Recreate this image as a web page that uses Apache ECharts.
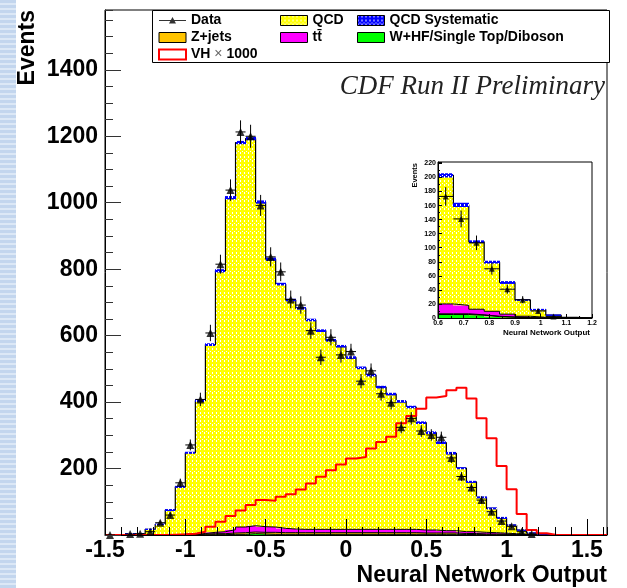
<!DOCTYPE html>
<html><head><meta charset="utf-8">
<script src="https://cdn.jsdelivr.net/npm/echarts@6/dist/echarts.min.js"></script>
<style>html,body{margin:0;padding:0;background:#fff}#c{width:627px;height:588px}</style>
</head><body><div id="c"></div>
<script>
// ---------------- data ----------------
// main histogram: 50 bins of width 0.0625 starting at -1.5
const binStart = -1.5, binWidth = 0.0625;
const qcd = [0,0,4,4,17,32,74,143,245,400,
  565,785,999,1157,1165,977,806,735,689,665,
  630,598,569,551,517,486,464,428,407,385,
  368,323,293,265,233,191,150,105,73,46,
  26,12,5,2,1,0,0,0,0,0];
const whf = [0,0,0,0,0,0,0,0,0,0.5,
  1,1,2,2,4,3,2,2,2,2,
  2,2,2,2,2,2,2,2,2,2,
  2,2,2,2,2,1.5,1.5,1,1,1,
  0.5,0.5,0,0,0,0,0,0,0,0];
const zjets = [0,0,0,0,0,0,0.5,1,1,2,
  3,3,4,5,5,5,6,5,5,5,
  5,5,5,5,5,5,5,5,5,5,
  5,4,4,4,4,3,3,2,2,1.5,
  1,0.5,0.3,0,0,0,0,0,0,0];
const ttbar = [0,0,0,0,0,0,0.5,1,1.5,2,
  4,6,10,17,19,17,16,13,11,10,
  10,10,10,10,10,10,10,10,10,10,
  10,9,9,7,7,5.5,5.5,5,4,3,
  2.5,1.5,0.7,0,0,0,0,0,0,0];
const qcdSys = [0,0,2,2,2,2,3,3,3,4,
  4,5,5,5,5,5,5,4,4,4,
  4,4,4,4,4,4,4,4,4,4,
  4,4,4,4,4,3,3,3,3,3,
  2,2,2,1,1,0,0,0,0,0];
const vh1000 = [0,0,0,0,0,0,1,2,4,10,
  25,40,57,74,90,105,103,115,123,137,
  155,175,195,212,230,235,260,280,296,336,
  358,380,414,418,436,443,411,351,291,208,
  138,63,15,5,0,0,0,0,0,0];
const dataCounts = [0,null,3,4,10,37,60,157,271,408,
  608,815,1038,1213,1200,992,837,792,709,692,
  615,535,595,542,552,463,494,425,398,324,
  351,313,301,294,232,176,143,105,70,42,
  26,10,3,null,null,null,null,null,null,null];
const xTickLabels = ['-1.5','-1','-0.5','0','0.5','1','1.5'];
const yTickLabels = ['200','400','600','800','1000','1200','1400'];

// inset: 10 bins of width 0.06 starting at 0.6
const insetStart = 0.6, insetWidth = 0.06;
const insetQCD = [183,143,96,70,45,23,11,3.5,1,0];
const insetTtbar = [14,12,8,7,4,2,1,0.5,0,0];
const insetWHF = [5,5,4,2,1,0.5,0,0,0,0];
const insetZjets = [1,1,0.5,0.5,0.5,0,0,0,0,0];
const insetSys = [3,3,2,2,2,1,1,1,0,0];
const insetData = [173,141,107,70,41,26,10,2,null,null];
const insetXTickLabels = ['0.6','0.7','0.8','0.9','1','1.1','1.2'];

// ---------------- styling helpers ----------------
const FONT = '"Liberation Sans", Arial, Helvetica, sans-serif';
function makePattern(base, dot, w, h, pts) {
  const c = document.createElement('canvas'); c.width = w; c.height = h;
  const g = c.getContext('2d'); g.fillStyle = base; g.fillRect(0, 0, w, h);
  g.fillStyle = dot; pts.forEach(p => g.fillRect(p[0], p[1], 1, 1));
  return {image: c, repeat: 'repeat'};
}
const patPts = [[0,0],[0,1],[0,4],[0,5],[2,7]];
const yellowPat = makePattern('#ffff00', '#ffffff', 4, 8, patPts);
const bluePat = makePattern('#0000ff', '#ffffff', 4, 8, patPts);
const stripeCanvas = document.createElement('canvas'); stripeCanvas.width = 4; stripeCanvas.height = 5;
(function(){const g = stripeCanvas.getContext('2d'); g.fillStyle = '#c3d6ee'; g.fillRect(0,0,4,5); g.fillStyle = '#dce8f6'; g.fillRect(0,3,4,2);})();
const stripePat = {image: stripeCanvas, repeat: 'repeat'};

// build stacked rect items [lo, hi, base, top] and outline points
function buildStack(layers, start, width) {
  const n = layers[0].length, cum = new Array(n).fill(0);
  return layers.map(arr => {
    const rects = [], outline = [];
    for (let i = 0; i < n; i++) {
      const lo = start + i * width, hi = lo + width, b = cum[i], t = cum[i] + arr[i];
      rects.push([lo, hi, b, t]); outline.push([lo, t]); cum[i] = t;
    }
    outline.push([start + n * width, cum[n - 1]]);
    return {rects, outline, cum: cum.slice()};
  });
}
function rectRender(fill) {
  return function (params, api) {
    const p0 = api.coord([api.value(0), api.value(3)]);
    const p1 = api.coord([api.value(1), api.value(2)]);
    const x = Math.round(p0[0]), x2 = Math.round(p1[0]);
    const y = p0[1], h = p1[1] - p0[1];
    if (h <= 0.05) return null;
    return {type: 'rect', shape: {x: x, y: y, width: x2 - x, height: h}, style: {fill: fill}};
  };
}
function errRender(params, api) {
  const x = api.value(0), y = api.value(1), e = api.value(2), hw = api.value(3);
  const c = api.coord([x, y]);
  const t = api.coord([x, y + e]), b = api.coord([x, Math.max(0, y - e)]);
  const l = api.coord([x - hw, y]), r = api.coord([x + hw, y]);
  const st = {stroke: '#000', lineWidth: 1};
  const ch = [{type: 'line', shape: {x1: l[0], y1: c[1], x2: r[0], y2: c[1]}, style: st}];
  if (e > 0) ch.push({type: 'line', shape: {x1: c[0], y1: t[1], x2: c[0], y2: b[1]}, style: st});
  return {type: 'group', children: ch};
}
function stepLine(arr, start, width) {
  const pts = arr.map((v, i) => [start + i * width, v]);
  pts.push([start + arr.length * width, arr[arr.length - 1]]);
  return pts;
}
function dataItems(arr, start, width) {
  const out = [];
  arr.forEach((v, i) => { if (v !== null) out.push([start + (i + 0.5) * width, v, Math.sqrt(v), width / 2]); });
  return out;
}

const colors = {whf: '#00ff00', zjets: '#ffc400', ttbar: '#ff00ff'};
const mainStack = buildStack([whf, zjets, ttbar, qcd], binStart, binWidth);
const insetStack = buildStack([insetWHF, insetZjets, insetTtbar, insetQCD], insetStart, insetWidth);
function sysItems(stack, sys, start, width) {
  const tot = stack[stack.length - 1].cum;
  return sys.map((s, i) => [start + i * width, start + (i + 1) * width, tot[i] - s, tot[i] + s]).filter(d => d[3] > d[2]);
}

const series = [];
function addStack(stack, names, fills, xi, yi) {
  stack.forEach((L, k) => {
    series.push({type: 'custom', name: names[k], xAxisIndex: xi, yAxisIndex: yi, data: L.rects,
      encode: {x: [0, 1], y: [2, 3]}, renderItem: rectRender(fills[k]), silent: true, z: 2,
      itemStyle: {color: typeof fills[k] === 'string' ? fills[k] : '#ffff00'}});
  });
  stack.forEach((L, k) => {
    series.push({type: 'line', name: names[k] + '_outline', xAxisIndex: xi, yAxisIndex: yi, data: L.outline,
      step: 'end', symbol: 'none', showSymbol: false, silent: true, z: 3,
      lineStyle: {color: '#000', width: k === 3 ? 1.2 : 1}});
  });
}
addStack(mainStack, ['W+HF/Single Top/Diboson', 'Z+jets', 't\u0074\u0304', 'QCD'],
  [colors.whf, colors.zjets, colors.ttbar, yellowPat], 0, 0);
series.push({type: 'custom', name: 'QCD Systematic', xAxisIndex: 0, yAxisIndex: 0,
  data: sysItems(mainStack, qcdSys, binStart, binWidth), encode: {x: [0, 1], y: [2, 3]},
  renderItem: rectRender(bluePat), silent: true, z: 4, itemStyle: {color: '#0000ff'}});
series.push({type: 'line', name: 'VH \u00d7 1000', xAxisIndex: 0, yAxisIndex: 0,
  data: stepLine(vh1000, binStart, binWidth), step: 'end', symbol: 'none', showSymbol: false,
  silent: true, z: 5, lineStyle: {color: '#ff0000', width: 2}, itemStyle: {color: '#ff0000'}});
const mainData = dataItems(dataCounts, binStart, binWidth);
series.push({type: 'custom', name: 'data_err', xAxisIndex: 0, yAxisIndex: 0, data: mainData,
  encode: {x: 0, y: 1}, renderItem: errRender, silent: true, z: 6});
series.push({type: 'scatter', name: 'Data', xAxisIndex: 0, yAxisIndex: 0,
  data: mainData.map(d => [d[0], d[1]]), symbol: 'triangle', symbolSize: 8,
  itemStyle: {color: '#000'}, silent: true, z: 7});

// inset
addStack(insetStack, ['i_whf', 'i_zjets', 'i_ttbar', 'i_qcd'],
  [colors.whf, colors.zjets, colors.ttbar, yellowPat], 2, 2);
series.push({type: 'custom', name: 'i_sys', xAxisIndex: 2, yAxisIndex: 2,
  data: sysItems(insetStack, insetSys, insetStart, insetWidth), encode: {x: [0, 1], y: [2, 3]},
  renderItem: rectRender(bluePat), silent: true, z: 4});
const inData = dataItems(insetData, insetStart, insetWidth);
series.push({type: 'custom', name: 'i_err', xAxisIndex: 2, yAxisIndex: 2, data: inData,
  encode: {x: 0, y: 1}, renderItem: errRender, silent: true, z: 6});
series.push({type: 'scatter', name: 'i_data', xAxisIndex: 2, yAxisIndex: 2,
  data: inData.map(d => [d[0], d[1]]), symbol: 'triangle', symbolSize: 6,
  itemStyle: {color: '#000'}, silent: true, z: 7});

// ---------------- axes ----------------
const axisLbl = {fontFamily: FONT, fontWeight: 'bold', color: '#000'};
const xAxis = [
  {type: 'value', gridIndex: 0, min: -1.5, max: 1.625, interval: 0.5, position: 'bottom', z: 8,
    axisLine: {show: true, onZero: false, lineStyle: {color: '#000', width: 1}},
    axisTick: {show: true, inside: true, length: 16, lineStyle: {color: '#000'}},
    axisLabel: Object.assign({fontSize: 23, margin: 4, showMaxLabel: false,
      formatter: v => xTickLabels.indexOf(String(v)) >= 0 ? String(v) : ''}, axisLbl),
    splitLine: {show: false}},
  {type: 'value', gridIndex: 0, min: -1.5, max: 1.625, interval: 0.1, position: 'bottom', z: 8,
    axisLine: {show: false, onZero: false},
    axisTick: {show: true, inside: true, length: 8, lineStyle: {color: '#000'}},
    axisLabel: {show: false}, splitLine: {show: false}},
  {type: 'value', gridIndex: 1, min: 0.6, max: 1.2, interval: 0.1, position: 'bottom', z: 8,
    axisLine: {show: true, onZero: false, lineStyle: {color: '#000', width: 1}},
    axisTick: {show: true, inside: true, length: 4, lineStyle: {color: '#000'}},
    minorTick: {show: true, splitNumber: 2, length: 2, lineStyle: {color: '#000'}},
    axisLabel: Object.assign({fontSize: 7, margin: 2,
      formatter: v => insetXTickLabels.indexOf(String(v)) >= 0 ? String(v) : ''}, axisLbl),
    splitLine: {show: false}}
];
const yAxis = [
  {type: 'value', gridIndex: 0, min: 0, max: 1580, interval: 200, position: 'left', z: 8,
    axisLine: {show: true, onZero: false, lineStyle: {color: '#000', width: 1}},
    axisTick: {show: true, inside: true, length: 16, lineStyle: {color: '#333'}},
    axisLabel: Object.assign({fontSize: 23, margin: 7, showMaxLabel: false,
      formatter: v => yTickLabels.indexOf(String(v)) >= 0 ? String(v) : ''}, axisLbl),
    splitLine: {show: false}},
  {type: 'value', gridIndex: 0, min: 0, max: 1580, interval: 50, position: 'left', z: 8,
    axisLine: {show: false, onZero: false},
    axisTick: {show: true, inside: true, length: 8, lineStyle: {color: '#333'}},
    axisLabel: {show: false}, splitLine: {show: false}},
  {type: 'value', gridIndex: 1, min: 0, max: 222, interval: 20, position: 'left', z: 8,
    axisLine: {show: true, onZero: false, lineStyle: {color: '#000', width: 1}},
    axisTick: {show: true, inside: true, length: 4, lineStyle: {color: '#000'}},
    minorTick: {show: true, splitNumber: 2, length: 2, lineStyle: {color: '#000'}},
    axisLabel: Object.assign({fontSize: 7, margin: 2, showMaxLabel: false}, axisLbl),
    splitLine: {show: false}}
];

// ---------------- legend ----------------
const legendCommon = {orient: 'vertical', padding: 0, itemWidth: 27, itemHeight: 10, itemGap: 3,
  selectedMode: false, top: 13.5, z: 10,
  textStyle: {fontFamily: FONT, fontWeight: 'bold', fontSize: 14, color: '#000', lineHeight: 14,
    rich: {b: {fontFamily: FONT, fontWeight: 'normal', fontSize: 14, color: '#666', lineHeight: 14}}}};
const dataIcon = 'path://M0,0h0.01v0.01h-0.01z M27,9.99h0.01v0.01h-0.01z M0,4.5H27V5.5H0z M13.5,1.5L17,8L10,8z';
const legend = [
  Object.assign({}, legendCommon, {left: 158,
    formatter: n => n === 'VH \u00d7 1000' ? 'VH {b|\u00d7} 1000' : n,
    data: [
      {name: 'Data', icon: dataIcon, itemStyle: {color: '#000', borderWidth: 0}},
      {name: 'Z+jets', icon: 'rect', itemStyle: {color: colors.zjets, borderColor: '#000', borderWidth: 1}},
      {name: 'VH \u00d7 1000', icon: 'rect', itemStyle: {color: '#fff', borderColor: '#ff0000', borderWidth: 2}}
    ]}),
  Object.assign({}, legendCommon, {left: 280,
    data: [
      {name: 'QCD', icon: 'rect', itemStyle: {color: yellowPat, borderColor: '#000', borderWidth: 1}},
      {name: 't\u0074\u0304', icon: 'rect', itemStyle: {color: colors.ttbar, borderColor: '#000', borderWidth: 1}}
    ]}),
  Object.assign({}, legendCommon, {left: 357,
    data: [
      {name: 'QCD Systematic', icon: 'rect', itemStyle: {color: bluePat, borderColor: '#000', borderWidth: 1}},
      {name: 'W+HF/Single Top/Diboson', icon: 'rect', itemStyle: {color: colors.whf, borderColor: '#000', borderWidth: 1}}
    ]})
];

function txt(x, y, text, font, align, extra, fill) {
  return Object.assign({type: 'text', x: x, y: y, silent: true, z: 6,
    style: {text: text, font: font, fill: fill || '#000', align: align, textAlign: align,
      verticalAlign: 'middle', textVerticalAlign: 'middle'}}, extra || {});
}

const chart = echarts.init(document.getElementById('c'), null, {renderer: 'canvas'});
chart.setOption({
  animation: false,
  backgroundColor: '#fff',
  grid: [
    {left: 105, top: 10, right: 20, bottom: 53, show: true, borderColor: '#000', borderWidth: 1, backgroundColor: 'transparent'},
    {left: 438, top: 162, width: 154, height: 156, show: true, borderColor: '#000', borderWidth: 1, backgroundColor: '#fff'}
  ],
  xAxis: xAxis, yAxis: yAxis, legend: legend, series: series,
  graphic: [
    {type: 'rect', shape: {x: 0, y: 0, width: 16, height: 588}, style: {fill: stripePat}, z: 0, silent: true},
    {type: 'rect', shape: {x: 152.5, y: 10.5, width: 457, height: 52}, style: {fill: '#fff', stroke: '#000', lineWidth: 1}, z: 3, silent: true},
    txt(605, 87, 'CDF Run II Preliminary', 'italic 27px "Liberation Serif", "Times New Roman", serif', 'right', null, '#222'),
    txt(607, 576, 'Neural Network Output', 'bold 23px ' + FONT, 'right'),
    txt(28, 10, 'Events', 'bold 23px ' + FONT, 'right', {rotation: Math.PI / 2}),
    txt(415, 163, 'Events', 'bold 7.5px ' + FONT, 'right', {rotation: Math.PI / 2}),
    txt(590, 333, 'Neural Network Output', 'bold 8px ' + FONT, 'right')
  ]
});
</script></body></html>
